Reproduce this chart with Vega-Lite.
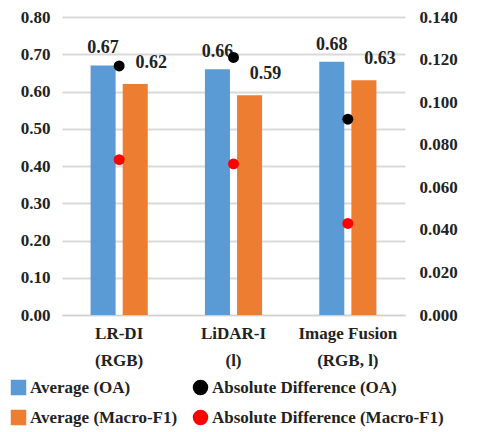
{
  "$schema": "https://vega.github.io/schema/vega-lite/v6.json",
  "autosize": "none",
  "padding": {"left": 62, "top": 17, "right": 80, "bottom": 117},
  "width": 343,
  "height": 298,
  "background": "white",
  "config": {
    "view": {"stroke": null}
  },
  "data": {
    "values": [
      {"category": "LR-DI\n(RGB)", "series": "Average (OA)", "value": 0.67},
      {"category": "LR-DI\n(RGB)", "series": "Average (Macro-F1)", "value": 0.62},
      {"category": "LiDAR-I\n(l)", "series": "Average (OA)", "value": 0.66},
      {"category": "LiDAR-I\n(l)", "series": "Average (Macro-F1)", "value": 0.59},
      {"category": "Image Fusion\n(RGB, l)", "series": "Average (OA)", "value": 0.68},
      {"category": "Image Fusion\n(RGB, l)", "series": "Average (Macro-F1)", "value": 0.63},
      {"category": "LR-DI\n(RGB)", "series": "Absolute Difference (OA)", "value": 0.117},
      {"category": "LiDAR-I\n(l)", "series": "Absolute Difference (OA)", "value": 0.121},
      {"category": "Image Fusion\n(RGB, l)", "series": "Absolute Difference (OA)", "value": 0.092},
      {"category": "LR-DI\n(RGB)", "series": "Absolute Difference (Macro-F1)", "value": 0.073},
      {"category": "LiDAR-I\n(l)", "series": "Absolute Difference (Macro-F1)", "value": 0.071},
      {"category": "Image Fusion\n(RGB, l)", "series": "Absolute Difference (Macro-F1)", "value": 0.043}
    ]
  },
  "encoding": {
    "x": {
      "field": "category", "type": "nominal", "sort": null,
      "scale": {"paddingInner": 0.5, "paddingOuter": 0.25},
      "axis": {"title": null, "labelAngle": 0, "labelExpr": "split(datum.label, '\\n')", "labelLineHeight": 27, "labelPadding": 10, "ticks": false, "domainColor": "#d0d0d0",
        "labelFont": "Liberation Serif", "labelFontWeight": "bold", "labelFontSize": 17, "labelColor": "#222222"}
    }
  },
  "layer": [
    {
      "encoding": {
        "y": {"field": "value", "type": "quantitative", "scale": {"domain": [0, 0.8]},
          "axis": {"title": null, "values": [0, 0.1, 0.2, 0.3, 0.4, 0.5, 0.6, 0.7, 0.8], "format": ".2f", "domain": false, "ticks": false, "gridColor": "#d9d9d9", "gridWidth": 2, "labelPadding": 12, "labelOverlap": false,
            "labelFont": "Liberation Serif", "labelFontWeight": "bold", "labelFontSize": 17, "labelColor": "#222222"}}
      },
      "layer": [
        {
          "transform": [{"filter": "indexof(datum.series, 'Average') === 0"}],
          "mark": {"type": "bar"},
          "encoding": {
            "xOffset": {"field": "series", "type": "nominal", "scale": {"domain": ["Average (OA)", "Average (Macro-F1)"], "paddingInner": 0.22}},
            "color": {"field": "series", "type": "nominal", "sort": null,
              "scale": {"domain": ["Average (OA)", "Average (Macro-F1)", "Absolute Difference (OA)", "Absolute Difference (Macro-F1)"], "range": ["#5b9bd5", "#ed7d31", "#000000", "#ff0000"]},
              "legend": {"title": null, "orient": "none", "legendX": -52, "legendY": 362, "columns": 2, "gridAlign": "none", "columnPadding": 14, "rowPadding": 12, "symbolSize": 240, "labelOffset": 3,
                "labelFont": "Liberation Serif", "labelFontWeight": "bold", "labelFontSize": 17, "labelColor": "#222222", "labelLimit": 0}}
          }
        },
        {
          "transform": [{"filter": "datum.series === 'Average (OA)'"}],
          "mark": {"type": "text", "baseline": "bottom", "dy": -8, "font": "Liberation Serif", "fontWeight": "bold", "fontSize": 18, "color": "#222222"},
          "encoding": {
            "xOffset": {"field": "series", "type": "nominal"},
            "text": {"field": "value", "type": "quantitative", "format": ".2f"}
          }
        },
        {
          "transform": [{"filter": "datum.series === 'Average (Macro-F1)'"}],
          "mark": {"type": "text", "baseline": "bottom", "dy": -12, "dx": 16, "font": "Liberation Serif", "fontWeight": "bold", "fontSize": 18, "color": "#222222"},
          "encoding": {
            "xOffset": {"field": "series", "type": "nominal"},
            "text": {"field": "value", "type": "quantitative", "format": ".2f"}
          }
        }
      ]
    },
    {
      "transform": [{"filter": "indexof(datum.series, 'Absolute') === 0"}],
      "mark": {"type": "point", "filled": true, "size": 120, "opacity": 1},
      "encoding": {
        "y": {"field": "value", "type": "quantitative", "scale": {"domain": [0, 0.14]},
          "axis": {"orient": "right", "title": null, "values": [0, 0.02, 0.04, 0.06, 0.08, 0.1, 0.12, 0.14], "format": ".3f", "domain": false, "ticks": false, "grid": false, "labelPadding": 14, "labelOverlap": false,
            "labelFont": "Liberation Serif", "labelFontWeight": "bold", "labelFontSize": 17, "labelColor": "#222222"}},
        "color": {"field": "series", "type": "nominal", "sort": null,
          "scale": {"domain": ["Average (OA)", "Average (Macro-F1)", "Absolute Difference (OA)", "Absolute Difference (Macro-F1)"], "range": ["#5b9bd5", "#ed7d31", "#000000", "#ff0000"]}},
        "shape": {"field": "series", "type": "nominal", "sort": null,
          "scale": {"domain": ["Average (OA)", "Average (Macro-F1)", "Absolute Difference (OA)", "Absolute Difference (Macro-F1)"], "range": ["square", "square", "circle", "circle"]}}
      }
    }
  ],
  "resolve": {"scale": {"y": "independent"}}
}
